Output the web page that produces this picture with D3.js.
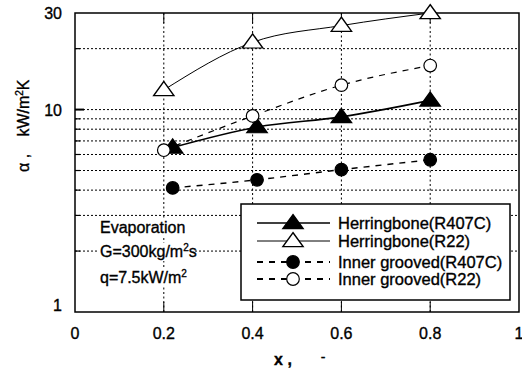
<!DOCTYPE html>
<html>
<head>
<meta charset="utf-8">
<script src="https://cdn.jsdelivr.net/npm/d3@7"></script>
<style>
  body { margin: 0; background: #fff; }
  svg { display: block; font-family: "Liberation Sans", Arial, sans-serif; }
  text { stroke: #000; stroke-width: 0.35px; }
</style>
</head>
<body>
<svg id="chart" width="522" height="369"></svg>
<script>
// data
const xR22 = [0.2, 0.4, 0.6, 0.8];
const xR407C = [0.22, 0.41, 0.6, 0.8];
const hbR407C = [6.5, 8.2, 9.2, 11.1];
const hbR22 = [12.5, 21.5, 26, 30];
const igR407C = [4.1, 4.5, 5.05, 5.65];
const igR22 = [6.3, 9.3, 13.2, 16.5];
const xTicks = [0, 0.2, 0.4, 0.6, 0.8, 1];
const yTickLabels = [1, 10, 30];
const yGrid = [2, 3, 4, 5, 6, 7, 8, 9, 10, 20];
const legendNames = ["Herringbone(R407C)", "Herringbone(R22)", "Inner grooved(R407C)", "Inner grooved(R22)"];

const margin = {top: 13, right: 3, bottom: 57, left: 75};
const width = 522, height = 369;

const svg = d3.select("#chart");

const x = d3.scaleLinear().domain([0, 1]).range([margin.left, width - margin.right]);
const y = d3.scaleLog().domain([1, 30]).range([height - margin.bottom, margin.top]);

// grid
svg.append("g")
  .selectAll("line")
  .data(yGrid)
  .enter()
  .append("line")
  .attr("x1", x(0)).attr("x2", x(1))
  .attr("y1", d => y(d)).attr("y2", d => y(d))
  .attr("stroke", "#000")
  .attr("stroke-width", 1)
  .attr("stroke-dasharray", "2,2");

svg.append("g")
  .selectAll("line")
  .data(xTicks.slice(1, -1))
  .enter()
  .append("line")
  .attr("x1", d => x(d)).attr("x2", d => x(d))
  .attr("y1", y(30)).attr("y2", y(1))
  .attr("stroke", "#000")
  .attr("stroke-width", 1)
  .attr("stroke-dasharray", "2,2.5");

// inner ticks
svg.append("g")
  .selectAll("line")
  .data(xTicks.slice(1, -1))
  .enter()
  .append("line")
  .attr("x1", d => x(d)).attr("x2", d => x(d))
  .attr("y1", y(30)).attr("y2", y(30) + 10)
  .attr("stroke", "#000");

svg.append("g")
  .selectAll("line")
  .data(xTicks.slice(1, -1))
  .enter()
  .append("line")
  .attr("x1", d => x(d)).attr("x2", d => x(d))
  .attr("y1", y(1)).attr("y2", y(1) - 10)
  .attr("stroke", "#000");

svg.append("g")
  .selectAll("line")
  .data(yGrid)
  .enter()
  .append("line")
  .attr("x1", x(0)).attr("x2", d => x(0) + (d === 10 ? 9 : 5))
  .attr("y1", d => y(d)).attr("y2", d => y(d))
  .attr("stroke", "#000")
  .attr("stroke-width", d => d === 10 ? 2 : 1.2);

// frame
svg.append("rect")
  .attr("x", x(0)).attr("y", y(30))
  .attr("width", x(1) - x(0)).attr("height", y(1) - y(30))
  .attr("fill", "none")
  .attr("stroke", "#000")
  .attr("stroke-width", 1.5);

// tick labels
svg.append("g")
  .selectAll("text")
  .data(xTicks)
  .enter()
  .append("text")
  .attr("x", d => x(d))
  .attr("y", 339)
  .attr("text-anchor", "middle")
  .style("font-size", "16px")
  .text(d => d === 0 || d === 1 ? d : d.toFixed(1));

svg.append("g")
  .selectAll("text")
  .data(yTickLabels)
  .enter()
  .append("text")
  .attr("x", 62)
  .attr("y", d => y(d) + (d === 1 ? -1 : 6))
  .attr("text-anchor", "end")
  .style("font-size", "16px")
  .text(d => d);

// axis titles
svg.append("text")
  .attr("x", 283)
  .attr("y", 365)
  .attr("text-anchor", "middle")
  .style("font-size", "16px")
  .style("font-weight", "bold")
  .text("x ,");
svg.append("text")
  .attr("x", 323)
  .attr("y", 362)
  .attr("text-anchor", "middle")
  .style("font-size", "14px")
  .text("-");

svg.append("text")
  .attr("transform", "translate(29,163) rotate(-90)")
  .attr("text-anchor", "middle")
  .style("font-size", "16px")
  .text("α ,");
const yTitle = svg.append("text")
  .attr("transform", "translate(29,108) rotate(-90)")
  .attr("text-anchor", "middle")
  .style("font-size", "16px");
yTitle.append("tspan").text("kW/m");
yTitle.append("tspan").attr("dy", -6).style("font-size", "10px").text("2");
yTitle.append("tspan").attr("dy", 6).text("K");

// series
const line = d3.line()
  .x(d => x(d[0]))
  .y(d => y(d[1]))
  .curve(d3.curveMonotoneX);

const series = [
  {xs: xR407C, ys: hbR407C, width: 1.6, dash: null, shape: "tri", fill: "#000"},
  {xs: xR22, ys: hbR22, width: 1, dash: null, shape: "tri", fill: "#fff"},
  {xs: xR407C, ys: igR407C, width: 1.4, dash: "6,6", shape: "circ", fill: "#000"},
  {xs: xR22, ys: igR22, width: 1.2, dash: "6,6", shape: "circ", fill: "#fff"}
];

const triangle = d3.symbol().type(d3.symbolTriangle).size(115);

function marker(g, s, cx, cy) {
  if (s.shape === "tri") {
    g.append("path")
      .attr("d", triangle())
      .attr("transform", "translate(" + cx + "," + (cy + 1) + ") scale(1.25,1)")
      .attr("fill", s.fill)
      .attr("stroke", "#000")
      .attr("stroke-width", 1.2);
  } else {
    g.append("circle")
      .attr("cx", cx).attr("cy", cy)
      .attr("r", 6.3)
      .attr("fill", s.fill)
      .attr("stroke", "#000")
      .attr("stroke-width", 1.2);
  }
}

series.forEach(s => {
  const pts = s.xs.map((v, i) => [v, s.ys[i]]);
  svg.append("path")
    .attr("d", line(pts))
    .attr("fill", "none")
    .attr("stroke", "#000")
    .attr("stroke-width", s.width)
    .attr("stroke-dasharray", s.dash);
});
series.forEach(s => {
  const g = svg.append("g");
  s.xs.forEach((v, i) => marker(g, s, x(v), y(s.ys[i])));
});

// annotation
const note = svg.append("g").style("font-size", "16px");
[[100, 233, 87], [100, 257, 95], [100, 283, 82]].forEach(b => {
  note.append("rect")
    .attr("x", b[0] - 2).attr("y", b[1] - 14)
    .attr("width", b[2]).attr("height", 18)
    .attr("fill", "#fff");
});
note.append("text").attr("x", 100).attr("y", 233).text("Evaporation");
const gText = note.append("text").attr("x", 100).attr("y", 257);
gText.append("tspan").text("G=300kg/m");
gText.append("tspan").attr("dy", -6).style("font-size", "10px").text("2");
gText.append("tspan").attr("dy", 6).text("s");
const qText = note.append("text").attr("x", 100).attr("y", 283);
qText.append("tspan").text("q=7.5kW/m");
qText.append("tspan").attr("dy", -6).style("font-size", "10px").text("2");

// legend
const legend = svg.append("g");
legend.append("rect")
  .attr("x", 241).attr("y", 204)
  .attr("width", 269).attr("height", 96)
  .attr("fill", "#fff")
  .attr("stroke", "#000")
  .attr("stroke-width", 1.5);

const rowY = [223, 241, 262, 279];
series.forEach((s, i) => {
  legend.append("line")
    .attr("x1", 257).attr("x2", 330)
    .attr("y1", rowY[i]).attr("y2", rowY[i])
    .attr("stroke", "#000")
    .attr("stroke-width", s.dash ? 2 : (i === 0 ? 1.6 : 1))
    .attr("stroke-dasharray", s.dash);
  marker(legend, s, 293, rowY[i]);
  legend.append("text")
    .attr("x", 338)
    .attr("y", rowY[i] + 6)
    .style("font-size", "16.5px")
    .text(legendNames[i]);
});
</script>
</body>
</html>
